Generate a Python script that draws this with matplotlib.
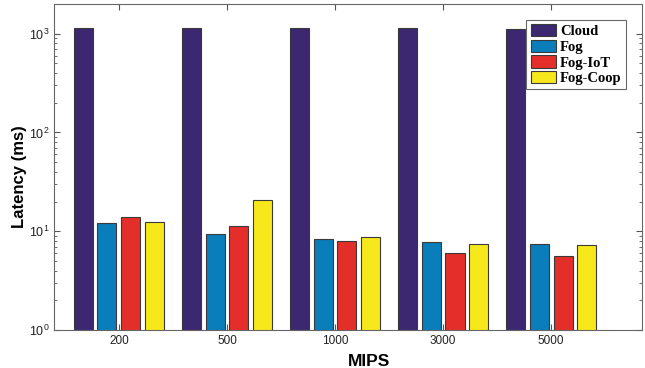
import matplotlib
matplotlib.use("Agg")
import matplotlib.pyplot as plt
import numpy as np

categories = ["200", "500", "1000", "3000", "5000"]
series_names = ["Cloud", "Fog", "Fog-IoT", "Fog-Coop"]
cloud = [1150, 1150, 1150, 1130, 1120]
fog = [12.1, 9.3, 8.3, 7.7, 7.5]
fog_iot = [14.1, 11.3, 7.9, 6.0, 5.55]
fog_coop = [12.4, 20.6, 8.7, 7.5, 7.2]
colors = ["#3b2870", "#0a7dbb", "#e32e2a", "#f7e81c"]

plt.rcParams['font.family'] = ['Liberation Sans', 'DejaVu Sans']

fig = plt.figure(figsize=(6.45, 3.68), dpi=100)
ax = fig.add_axes([54/645, 38/368, 588/645, 326/368])

x = np.arange(1, len(categories) + 1)
spacing = 0.22
width = 0.176
all_series = [cloud, fog, fog_iot, fog_coop]
for i, (name, vals) in enumerate(zip(series_names, all_series)):
    ax.bar(x + (i - 1.5) * spacing, vals, width, color=colors[i],
           edgecolor="#3a3a3a", linewidth=0.8, label=name, zorder=2)

ax.set_yscale('log')
ax.set_ylim(1, 2000)
ax.set_xlim(0.4, 5.84)
ax.set_xticks(x)
ax.set_xticklabels(categories, fontsize=8.5)
ax.set_yticks([1, 10, 100, 1000])
ax.tick_params(axis='both', which='both', direction='in', top=True, right=True,
               colors="#555555", labelcolor="#222222")
ax.tick_params(axis='y', labelsize=9)
ax.tick_params(axis='both', which='major', length=4)
ax.tick_params(axis='both', which='minor', length=2)
ax.tick_params(axis='x', which='minor', bottom=False, top=False)
for s in ax.spines.values():
    s.set_color("#666666")
    s.set_linewidth(0.8)

ax.set_ylabel("Latency (ms)", fontsize=12, fontweight='bold')
ax.set_xlabel("MIPS", fontsize=12.5, fontweight='bold')
ax.xaxis.set_label_coords((369 - 54) / 588, -0.075)
ax.yaxis.set_label_coords(-0.046, 0.47)

leg = ax.legend(loc='upper right', bbox_to_anchor=(626/588 - 54/588, 1 - 16/326),
                prop={'family': 'Liberation Serif', 'weight': 'bold', 'size': 10.5},
                handlelength=1.7, handleheight=0.9, handletextpad=0.3,
                labelspacing=0.1, borderpad=0.3, borderaxespad=0,
                fancybox=False, edgecolor="#666666", framealpha=1)
leg.get_frame().set_linewidth(0.8)

fig.savefig("out.png", dpi=100)
